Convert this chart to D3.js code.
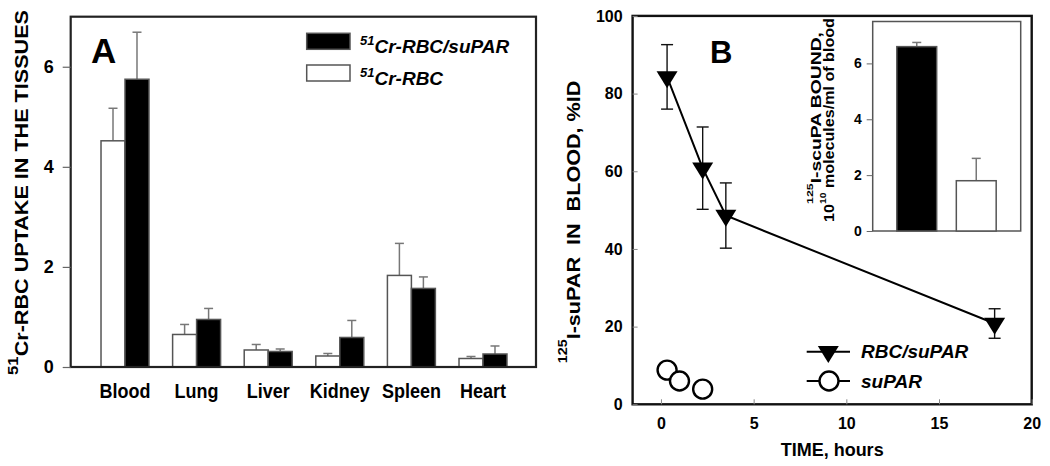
<!DOCTYPE html>
<html>
<head>
<meta charset="utf-8">
<script src="https://cdn.jsdelivr.net/npm/d3@7"></script>
<style>
  body { margin: 0; background: #fff; }
  svg text { font-family: "Liberation Sans", Arial, sans-serif; font-weight: bold; fill: #000; }
</style>
</head>
<body>
<svg id="chart" width="1050" height="466"></svg>
<script>
// panel A: 51Cr uptake in tissues
const tissues = ['Blood', 'Lung', 'Liver', 'Kidney', 'Spleen', 'Heart'];
const rbcMean = [4.52, 0.65, 0.34, 0.22, 1.83, 0.17];
const rbcErr = [0.65, 0.20, 0.11, 0.05, 0.64, 0.04];
const rbcSuparMean = [5.75, 0.95, 0.31, 0.59, 1.57, 0.26];
const rbcSuparErr = [0.94, 0.22, 0.05, 0.34, 0.23, 0.16];
const ticksA = [0, 2, 4, 6];

// panel B: 125I-suPAR in blood over time
const timeRbcSupar = [0.33, 2.25, 3.5, 18];
const bloodRbcSupar = [84.3, 60.8, 48.6, 20.8];
const bloodRbcSuparErr = [8.3, 10.6, 8.4, 3.8];
const timeSupar = [0.33, 1, 2.25];
const bloodSupar = [8.8, 6.0, 3.9];
const ticksBx = [0, 5, 10, 15, 20];
const ticksBy = [0, 20, 40, 60, 80, 100];

// inset: scuPA bound
const insetGroups = ['RBC/suPAR', 'suPAR'];
const insetBound = [6.6, 1.8];
const insetErr = [0.15, 0.8];
const ticksI = [0, 2, 4, 6];

const svg = d3.select('#chart');

// rotated axis title, stretched along its length like the original figure
function vlabel(x, y, parts, stretch) {
  const t = svg.append('text')
    .attr('text-anchor', 'middle')
    .attr('transform', 'translate(' + x + ',' + y + ') rotate(-90) scale(' + stretch + ',1)');
  parts.forEach(function (p) {
    t.append('tspan')
      .attr('font-size', p.size + 'px')
      .attr('dy', p.dy || 0)
      .text(p.text);
  });
  return t;
}

function triDown(w, h) {
  return {
    draw: function (ctx) {
      ctx.moveTo(-w / 2, -h / 3);
      ctx.lineTo(w / 2, -h / 3);
      ctx.lineTo(0, 2 * h / 3);
      ctx.closePath();
    }
  };
}

// ---------------- panel A ----------------
const xA = d3.scaleBand().domain(tissues).range([89.2, 518.8]).paddingInner(0.33).paddingOuter(0.165);
const subA = d3.scaleBand().domain(['rbc', 'rbcSupar']).range([0, xA.bandwidth()]);
const yA = d3.scaleLinear().domain([0, 7]).range([367, 16.7]);

const gA = svg.append('g');

const rowsA = [];
tissues.forEach(function (t, i) {
  rowsA.push({ tissue: t, key: 'rbc', v: rbcMean[i], e: rbcErr[i], fill: '#fff' });
  rowsA.push({ tissue: t, key: 'rbcSupar', v: rbcSuparMean[i], e: rbcSuparErr[i], fill: '#000' });
});

// error whiskers (upper only)
gA.selectAll('g.err').data(rowsA).enter().append('g')
  .attr('class', 'err')
  .each(function (d) {
    const cx = xA(d.tissue) + subA(d.key) + subA.bandwidth() / 2;
    const g = d3.select(this);
    g.append('line').attr('x1', cx).attr('x2', cx).attr('y1', yA(d.v)).attr('y2', yA(d.v + d.e))
      .attr('stroke', '#777').attr('stroke-width', 1.5);
    g.append('line').attr('x1', cx - 4.5).attr('x2', cx + 4.5).attr('y1', yA(d.v + d.e)).attr('y2', yA(d.v + d.e))
      .attr('stroke', '#777').attr('stroke-width', 1.5);
  });

gA.selectAll('rect.bar').data(rowsA).enter().append('rect')
  .attr('class', 'bar')
  .attr('x', function (d) { return xA(d.tissue) + subA(d.key); })
  .attr('width', subA.bandwidth())
  .attr('y', function (d) { return yA(d.v); })
  .attr('height', function (d) { return yA(0) - yA(d.v); })
  .attr('fill', function (d) { return d.fill; })
  .attr('stroke', '#555')
  .attr('stroke-width', 1.5);

// frame
gA.append('rect')
  .attr('x', 70.7).attr('y', yA(7)).attr('width', 536 - 70.7).attr('height', yA(0) - yA(7))
  .attr('fill', 'none').attr('stroke', '#222').attr('stroke-width', 2.2);

// y axis ticks (outside)
const axA = gA.append('g').attr('transform', 'translate(70.7,0)')
  .call(d3.axisLeft(yA).tickValues(ticksA).tickSize(8).tickPadding(9).tickFormat(d3.format('d')));
axA.select('.domain').remove();
axA.selectAll('line').attr('stroke', '#666').attr('stroke-width', 1.2);
axA.selectAll('text').attr('font-size', '18px').attr('font-family', null);

// category labels
gA.selectAll('text.cat').data(tissues).enter().append('text')
  .attr('class', 'cat')
  .attr('x', function (d) { return xA(d) + xA.bandwidth() / 2; })
  .attr('y', 398)
  .attr('text-anchor', 'middle')
  .attr('font-size', '18px')
  .attr('transform', 'translate(0,398) scale(1,1.12) translate(0,-398)')
  .text(function (d) { return d; });

gA.append('text').attr('x', 91).attr('y', 63).attr('font-size', '35px').text('A');

// legend A
const legA = [
  { label: 'Cr-RBC/suPAR', fill: '#000', y: 33.3 },
  { label: 'Cr-RBC', fill: '#fff', y: 65 }
];
legA.forEach(function (l) {
  gA.append('rect').attr('x', 306.7).attr('y', l.y).attr('width', 43.3).attr('height', 16)
    .attr('fill', l.fill).attr('stroke', '#555').attr('stroke-width', 1.5);
  const t = gA.append('text').attr('x', 360).attr('y', l.y + 20).attr('font-style', 'italic');
  t.append('tspan').attr('font-size', '13px').attr('dy', -8).text('51');
  t.append('tspan').attr('font-size', '19px').attr('dy', 8).text(l.label);
});

vlabel(28, 192.5, [
  { text: '51', size: 14, dy: -10 },
  { text: 'Cr-RBC UPTAKE IN THE TISSUES', size: 18, dy: 10 }
], 1.2);

// ---------------- panel B ----------------
const xB = d3.scaleLinear().domain([-1.53, 20]).range([632.6, 1031.7]);
const yB = d3.scaleLinear().domain([0, 100]).range([404.3, 15.9]);
const gB = svg.append('g');

gB.append('rect')
  .attr('x', xB(-1.53)).attr('y', yB(100)).attr('width', xB(20) - xB(-1.53)).attr('height', yB(0) - yB(100))
  .attr('fill', 'none').attr('stroke', '#111').attr('stroke-width', 2.4);

// inside ticks
const axBy = gB.append('g').attr('transform', 'translate(' + xB(-1.53) + ',0)')
  .call(d3.axisLeft(yB).tickValues(ticksBy).tickSize(-5).tickPadding(10));
axBy.select('.domain').remove();
axBy.selectAll('line').attr('stroke', '#888');
axBy.selectAll('text').attr('font-size', '16px').attr('font-family', null);

const axBx = gB.append('g').attr('transform', 'translate(0,' + yB(0) + ')')
  .call(d3.axisBottom(xB).tickValues(ticksBx).tickSize(-5).tickPadding(13));
axBx.select('.domain').remove();
axBx.selectAll('line').attr('stroke', '#888');
axBx.selectAll('text').attr('font-size', '16px').attr('font-family', null);

gB.append('text').attr('x', (xB(-1.53) + xB(20)) / 2).attr('y', 456)
  .attr('text-anchor', 'middle').attr('font-size', '18px').text('TIME, hours');

vlabel(580, 222, [
  { text: '125', size: 12, dy: -13 },
  { text: 'I-suPAR  IN  BLOOD, %ID', size: 18, dy: 13 }
], 1.2).attr('xml:space', 'preserve');

gB.append('text').attr('x', 710).attr('y', 63).attr('font-size', '31px').text('B');

// RBC/suPAR series
const ptsB = timeRbcSupar.map(function (t, i) {
  return { t: t, v: bloodRbcSupar[i], e: bloodRbcSuparErr[i] };
});
ptsB.forEach(function (d) {
  const cx = xB(d.t);
  gB.append('line').attr('x1', cx).attr('x2', cx).attr('y1', yB(d.v - d.e)).attr('y2', yB(d.v + d.e))
    .attr('stroke', '#111').attr('stroke-width', 1.4);
  [d.v - d.e, d.v + d.e].forEach(function (v) {
    gB.append('line').attr('x1', cx - 6).attr('x2', cx + 6).attr('y1', yB(v)).attr('y2', yB(v))
      .attr('stroke', '#111').attr('stroke-width', 1.4);
  });
});
gB.append('path').datum(ptsB)
  .attr('d', d3.line().x(function (d) { return xB(d.t); }).y(function (d) { return yB(d.v); }))
  .attr('fill', 'none').attr('stroke', '#000').attr('stroke-width', 2);
gB.selectAll('path.tri').data(ptsB).enter().append('path')
  .attr('class', 'tri')
  .attr('transform', function (d) { return 'translate(' + xB(d.t) + ',' + yB(d.v) + ')'; })
  .attr('d', d3.symbol().type(triDown(21, 17)))
  .attr('fill', '#000');

// suPAR series
gB.selectAll('circle.sup').data(timeSupar).enter().append('circle')
  .attr('class', 'sup')
  .attr('cx', function (d) { return xB(d); })
  .attr('cy', function (d, i) { return yB(bloodSupar[i]); })
  .attr('r', 9.5)
  .attr('fill', '#fff').attr('stroke', '#000').attr('stroke-width', 2.4);

// legend B
gB.append('line').attr('x1', 806.7).attr('x2', 850).attr('y1', 351.7).attr('y2', 351.7).attr('stroke', '#000').attr('stroke-width', 2);
gB.append('path').attr('transform', 'translate(828.3,351.7)').attr('d', d3.symbol().type(triDown(21, 17))).attr('fill', '#000');
gB.append('text').attr('x', 861).attr('y', 358).attr('font-size', '19px').attr('font-style', 'italic').text('RBC/suPAR');
gB.append('line').attr('x1', 806.7).attr('x2', 850).attr('y1', 381).attr('y2', 381).attr('stroke', '#000').attr('stroke-width', 2);
gB.append('circle').attr('cx', 829).attr('cy', 381).attr('r', 9.5).attr('fill', '#fff').attr('stroke', '#000').attr('stroke-width', 2.4);
gB.append('text').attr('x', 861).attr('y', 388).attr('font-size', '19px').attr('font-style', 'italic').text('suPAR');

// ---------------- inset ----------------
const xI = d3.scaleBand().domain(insetGroups).range([887, 1006]).paddingInner(0.33).paddingOuter(0.165);
const yI = d3.scaleLinear().domain([0, 7.5]).range([231, 21.5]);
const gI = svg.append('g');

gI.append('rect').attr('x', 872.7).attr('y', yI(7.5)).attr('width', 1020.7 - 872.7).attr('height', yI(0) - yI(7.5))
  .attr('fill', '#fff').attr('stroke', '#555').attr('stroke-width', 1.5);

insetGroups.forEach(function (g, i) {
  const cx = xI(g) + xI.bandwidth() / 2;
  const top = yI(insetBound[i] + insetErr[i]);
  gI.append('line').attr('x1', cx).attr('x2', cx).attr('y1', yI(insetBound[i])).attr('y2', top)
    .attr('stroke', '#777').attr('stroke-width', 1.5);
  gI.append('line').attr('x1', cx - 4.5).attr('x2', cx + 4.5).attr('y1', top).attr('y2', top)
    .attr('stroke', '#777').attr('stroke-width', 1.5);
});
gI.selectAll('rect.ibar').data(insetGroups).enter().append('rect')
  .attr('class', 'ibar')
  .attr('x', function (d) { return xI(d); })
  .attr('width', xI.bandwidth())
  .attr('y', function (d, i) { return yI(insetBound[i]); })
  .attr('height', function (d, i) { return yI(0) - yI(insetBound[i]); })
  .attr('fill', function (d, i) { return i === 0 ? '#000' : '#fff'; })
  .attr('stroke', '#555').attr('stroke-width', 1.5);

const axI = gI.append('g').attr('transform', 'translate(872.7,0)')
  .call(d3.axisLeft(yI).tickValues(ticksI).tickSize(6).tickPadding(5));
axI.select('.domain').remove();
axI.selectAll('line').attr('stroke', '#666');
axI.selectAll('text').attr('font-size', '14px').attr('font-family', null);

vlabel(821, 118, [
  { text: '125', size: 9, dy: -8 },
  { text: 'I-scuPA BOUND,', size: 14, dy: 8 }
], 1.38);
vlabel(834, 120, [
  { text: '10', size: 14 },
  { text: '10', size: 9, dy: -8 },
  { text: ' molecules/ml of blood', size: 14, dy: 8 }
], 1.15).attr('xml:space', 'preserve');
</script>
</body>
</html>
